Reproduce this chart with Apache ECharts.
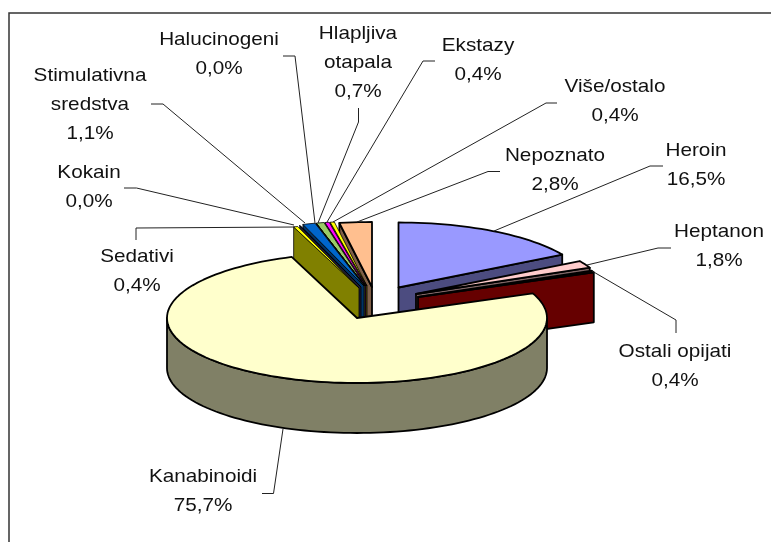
<!DOCTYPE html>
<html>
<head>
<meta charset="utf-8">
<style>
  html, body { margin: 0; padding: 0; background: #fff; }
  #chart { width: 771px; height: 542px; }
</style>
<script src="https://cdn.jsdelivr.net/npm/echarts@6/dist/echarts.min.js"></script>
</head>
<body>
<div id="chart"></div>
<script>
// slices, clockwise from twelve o'clock
var categories = ["Heroin", "Heptanon", "Ostali opijati", "Kanabinoidi", "Sedativi", "Kokain",
    "Stimulativna sredstva", "Halucinogeni", "Hlapljiva otapala", "Ekstazy", "Više/ostalo", "Nepoznato"];
// estimated unrounded shares, each one rounds to the printed label
var shares = [16.54, 1.84, 0.44, 75.65, 0.36, 0.02, 1.06, 0.02, 0.66, 0.36, 0.36, 2.75];
var shareLabels = ["16,5%", "1,8%", "0,4%", "75,7%", "0,4%", "0,0%", "1,1%", "0,0%", "0,7%", "0,4%", "0,4%", "2,8%"];

var topColors = ["#9999FF", "#FFCCCC", "#200000", "#FFFFCC", "#FFFF00", "#333366",
    "#0066CC", "#99CC66", "#99CC66", "#FF00FF", "#FFFF00", "#FFBF8F"];
var wallColors = ["#4C4C80", "#806666", "#660000", "#808066", "#808000", "#1A1A33",
    "#003366", "#4C6633", "#4C6633", "#800080", "#808000", "#806048"];

// pie geometry
var rx = 190, ry = 65, depth = 50;
// apex of every exploded slice, same order as categories
var apexes = [[398.5, 287.5], [416, 294], [418, 297], [357, 318], [359, 288], [361, 287],
    [364, 286], [365, 286], [365, 286], [366, 286], [367, 286], [372, 287]];
// back to front
var drawOrder = [0, 1, 2, 11, 10, 9, 8, 7, 6, 5, 4, 3];

// label lines: x center, first line y (middle)
var labelPos = [[696, 151], [719, 232], [675, 352], [203, 477], [137, 257], [89, 173],
    [90, 76], [219, 40], [358, 34], [478, 46], [615, 87], [555, 156]];
var labelLines = [["Heroin"], ["Heptanon"], ["Ostali opijati"], ["Kanabinoidi"], ["Sedativi"], ["Kokain"],
    ["Stimulativna", "sredstva"], ["Halucinogeni"], ["Hlapljiva", "otapala"], ["Ekstazy"], ["Više/ostalo"], ["Nepoznato"]];
var leaders = [
    [[663, 166], [650, 166], [494, 231]],
    [[671, 248], [658, 248], [587, 265]],
    [[676, 333], [676, 320], [592, 271]],
    [[262, 493.5], [273.5, 493.5], [283, 429]],
    [[136, 240], [136, 228], [295, 227]],
    [[124, 188], [136.5, 188], [294, 225]],
    [[151, 104], [163, 104], [305, 223]],
    [[283, 56], [295, 56], [315, 223]],
    [[358.5, 108], [358.5, 122], [318, 223]],
    [[435, 61], [423, 61], [327, 222]],
    [[557, 103], [546, 103], [333, 222]],
    [[500, 171.5], [488, 171.5], [357, 222]]
];

var total = shares.reduce(function (a, b) { return a + b; }, 0);
var startAngles = [];
shares.reduce(function (acc, v, i) {
    startAngles[i] = acc / total * 360;
    return acc + v;
}, 0);

function rimPoint(apex, deg, drop) {
    var t = deg * Math.PI / 180;
    return [apex[0] + rx * Math.sin(t), apex[1] - ry * Math.cos(t) + (drop || 0)];
}

function rimArc(apex, from, to, drop) {
    var pts = [];
    var steps = Math.max(1, Math.ceil((to - from) / 2));
    for (var s = 0; s <= steps; s++) {
        pts.push(rimPoint(apex, from + (to - from) * s / steps, drop));
    }
    return pts;
}

function poly(points, fill, lineWidth) {
    return {
        type: "polygon",
        shape: { points: points },
        style: { fill: fill, stroke: "#000", lineWidth: lineWidth, lineJoin: "round" }
    };
}

function renderSlice(params, api) {
    var i = api.value(0);
    var apex = apexes[i];
    var a1 = startAngles[i];
    var a2 = a1 + shares[i] / total * 360;
    var wall = wallColors[i];
    var down = [apex[0], apex[1] + depth];
    // the thin wedges would vanish under a heavy outline
    var lw = shares[i] < 1.5 && i !== 2 ? 0.8 : 1.8;
    var children = [];

    // cut faces, only the ones turned towards the viewer
    if (a1 > 180 && a1 < 360) {
        children.push(poly([apex, rimPoint(apex, a1), rimPoint(apex, a1, depth), down], wall, lw));
    }
    if (a2 > 0 && a2 < 180) {
        children.push(poly([apex, rimPoint(apex, a2), rimPoint(apex, a2, depth), down], wall, lw));
    }
    // outer wall, front half only
    var w1 = Math.max(a1, 90), w2 = Math.min(a2, 270);
    if (w2 > w1) {
        var outer = rimArc(apex, w1, w2).concat(rimArc(apex, w1, w2, depth).reverse());
        children.push(poly(outer, wall, lw));
    }
    children.push(poly([apex].concat(rimArc(apex, a1, a2)), topColors[i], lw));
    return { type: "group", children: children };
}

var LINE_H = 28.7;
var graphics = [{
    type: "rect",
    shape: { x: 9, y: 13, width: 800, height: 600 },
    style: { fill: "none", stroke: "#333", lineWidth: 1.5 }
}];

categories.forEach(function (name, i) {
    graphics.push({
        type: "polyline",
        shape: { points: leaders[i] },
        style: { fill: "none", stroke: "#222", lineWidth: 1 },
        z: 10
    });
    labelLines[i].concat([shareLabels[i]]).forEach(function (line, k) {
        graphics.push({
            type: "text",
            x: labelPos[i][0],
            y: labelPos[i][1] + k * LINE_H,
            scaleX: 1.09,
            style: {
                text: line,
                fill: "#111",
                font: "19px 'Liberation Sans', Arial, sans-serif",
                align: "center",
                verticalAlign: "middle"
            },
            z: 11
        });
    });
});

var chart = echarts.init(document.getElementById("chart"));
chart.setOption({
    animation: false,
    backgroundColor: "#fff",
    graphic: { elements: graphics },
    series: [{
        type: "custom",
        coordinateSystem: "none",
        silent: true,
        renderItem: renderSlice,
        data: drawOrder.map(function (i) { return [i]; })
    }]
});
</script>
</body>
</html>
